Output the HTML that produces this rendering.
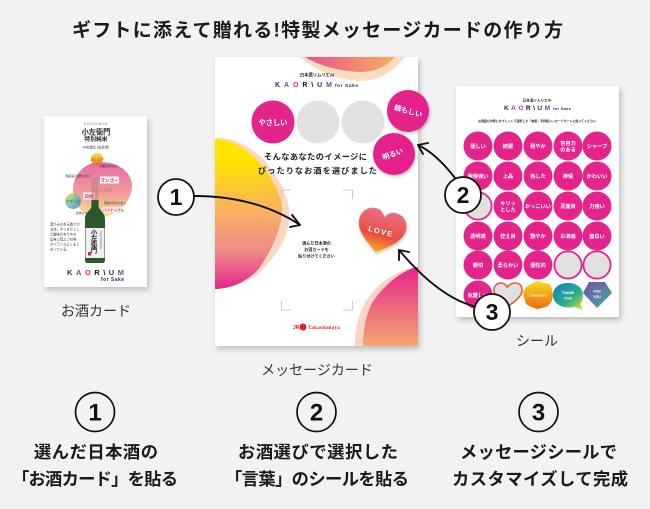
<!DOCTYPE html>
<html lang="ja"><head><meta charset="utf-8"><title>特製メッセージカードの作り方</title>
<style>
html,body{margin:0;padding:0;background:#f2f2f2}
svg{display:block}
text{font-family:"Liberation Sans","Noto Sans CJK JP",sans-serif}
.lb{font-size:14px;fill:#333;text-anchor:middle}
.s{font-size:5.2px;font-weight:700;fill:#fff;text-anchor:middle}
.m{font-size:7.2px;font-weight:700;fill:#fff;text-anchor:middle}
.k{font-weight:700;fill:#2b2b5a}
.n{font-weight:700;fill:#111;text-anchor:middle;font-family:"Liberation Sans",sans-serif}
</style></head><body>
<svg width="650" height="509" viewBox="0 0 650 509" xmlns="http://www.w3.org/2000/svg">
<defs>
<filter id="sh" x="-10%" y="-10%" width="125%" height="125%"><feDropShadow dx="2" dy="3" stdDeviation="3" flood-color="#000" flood-opacity=".22"/></filter>
<filter id="sh2" x="-20%" y="-20%" width="140%" height="140%"><feDropShadow dx="1" dy="1.5" stdDeviation="1.5" flood-color="#000" flood-opacity=".25"/></filter>
<linearGradient id="gl" x1="0" y1="0" x2="0" y2="1"><stop offset="0" stop-color="#ffe600"/><stop offset=".15" stop-color="#ffe300"/><stop offset=".48" stop-color="#f9b060"/><stop offset=".75" stop-color="#ef8a8a"/><stop offset="1" stop-color="#e5248b"/></linearGradient>
<linearGradient id="gt" x1="0" y1="0" x2="1" y2="0"><stop offset="0" stop-color="#e9508f"/><stop offset="1" stop-color="#f8b060"/></linearGradient>
<linearGradient id="gb" x1="0" y1="0" x2="0" y2="1"><stop offset="0" stop-color="#e5248b"/><stop offset="1" stop-color="#f5a870"/></linearGradient>
<linearGradient id="gh2" x1="0" y1="0" x2="0" y2="1"><stop offset="0" stop-color="#e96f85"/><stop offset=".6" stop-color="#ea4d3f"/><stop offset="1" stop-color="#f7b020"/></linearGradient>
<linearGradient id="gs" x1="0" y1="0" x2="0" y2="1"><stop offset="0" stop-color="#e56aa8"/><stop offset=".55" stop-color="#f09a9a"/><stop offset="1" stop-color="#fde28a"/></linearGradient>
<linearGradient id="g1" x1="0" y1="0" x2="0" y2="1"><stop offset="0" stop-color="#f5dc20"/><stop offset="1" stop-color="#ee6a10"/></linearGradient>
<linearGradient id="g2" x1="0" y1="0" x2="1" y2="1"><stop offset="0" stop-color="#0a7fc4"/><stop offset=".6" stop-color="#2db08a"/><stop offset="1" stop-color="#e8e020"/></linearGradient>
<linearGradient id="g3" x1="0" y1="0" x2="1" y2="1"><stop offset="0" stop-color="#7a4fa0"/><stop offset="1" stop-color="#3fb0a8"/></linearGradient>
<linearGradient id="g4" x1="0" y1="0" x2="1" y2="1"><stop offset="0" stop-color="#f2e030"/><stop offset=".5" stop-color="#6cc0a0"/><stop offset="1" stop-color="#4a78d0"/></linearGradient>
<clipPath id="cm"><rect x="215" y="57" width="203" height="289"/></clipPath>
</defs>
<rect width="650" height="509" fill="#f2f2f2"/>

<text x="72" y="36.5" font-size="19" font-weight="700" fill="#1a1a1a" textLength="491" lengthAdjust="spacing">ギフトに添えて贈れる!特製メッセージカードの作り方</text>

<!-- left card -->
<rect x="44" y="116" width="103" height="171" fill="#fff" filter="url(#sh)"/>
<text x="96" y="125" font-size="3.400" fill="#777" text-anchor="middle" letter-spacing=".6">KOZAEMON</text>
<text x="96" y="134.500" font-size="7.200" font-weight="700" fill="#222" text-anchor="middle">小左衛門</text>
<text x="96" y="141.200" font-size="5.800" font-weight="700" fill="#222" text-anchor="middle">特別純米</text>
<text x="96" y="148.500" font-size="3.400" fill="#444" text-anchor="middle">中央懐北 (岐阜県)</text>
<path d="M100 162C118 162 132 172 132 186 132 200 118 217 100 217 84 217 73 205 73 190 73 175 85 162 100 162Z" fill="url(#gs)"/>
<circle cx="97" cy="159" r="6" fill="url(#g1)" opacity=".85"/>
<circle cx="73" cy="201" r="8" fill="url(#g4)" opacity=".85"/>
<text x="97" y="160.500" font-size="3.400" fill="#8a4a00" text-anchor="middle">ふくよか</text>
<text x="73" y="202.500" font-size="3.400" fill="#225588" text-anchor="middle">すずしげ</text>
<text x="109" y="167" font-size="2.800" fill="#333" text-anchor="middle">甘味のある香り</text>
<text x="78" y="177" font-size="2.800" fill="#333" text-anchor="middle">麹由来の濃厚な甘い</text>
<text x="102" y="191.500" font-size="4.400" fill="#c0607a" text-anchor="middle">あたたかみ</text>
<rect x="100" y="176.500" width="19" height="7" fill="#fff" opacity=".95"/>
<text x="109.500" y="182" font-size="4.500" font-weight="700" fill="#e02050" text-anchor="middle">マンゴー</text>
<rect x="83.500" y="192.500" width="11" height="7" fill="#fff" opacity=".95"/>
<text x="89" y="198" font-size="4.500" font-weight="700" fill="#e02050" text-anchor="middle">白桃</text>
<text x="115" y="204" font-size="2.800" fill="#333" text-anchor="middle">南国の果実の甘さ</text>
<rect x="102" y="207" width="23" height="6" fill="#fff" opacity=".75"/>
<text x="113.500" y="211.500" font-size="3.600" font-weight="700" fill="#e02050" text-anchor="middle">パイナップル</text>
<text x="87" y="214" font-size="2.800" fill="#333" text-anchor="middle">爽快なカカオーツ</text>
<!-- bottle -->
<rect x="91.500" y="177" width="7" height="24" fill="#b98a80" opacity=".55"/>
<path d="M91.500 200h7v6c0 4 6.500 6 6.500 13v41c0 2-1 3-3 3H88c-2 0-3-1-3-3v-41c0-7 6.500-9 6.500-13z" fill="#2a5a2c"/>
<rect x="85.500" y="228" width="19" height="30" fill="#efefef"/>
<g font-size="6.300" font-weight="700" fill="#222" text-anchor="middle">
<text x="94" y="234.500">小</text><text x="94" y="240.500">左</text><text x="94" y="246.500">衛</text><text x="94" y="252.500">門</text>
</g>
<rect x="88" y="252" width="3" height="3.500" fill="#c0304a"/>
<rect x="100.500" y="231" width="1" height="18" fill="#999"/>
<g font-size="3.300" fill="#333">
<text x="50" y="225.500">温かみのある香りが</text>
<text x="50" y="230.500">主体。すっきりとし</text>
<text x="50" y="235.500">た酸味があり中の</text>
<text x="50" y="240.500">旨味と程よい甘味</text>
<text x="50" y="245.500">がバランスよくまと</text>
<text x="50" y="250.500">まっている。</text>
</g>
<text class="k" x="67" y="275" font-size="7.500" textLength="57" lengthAdjust="spacing">K<tspan fill="#6a4aa0">A</tspan><tspan fill="#e5248b">O</tspan><tspan fill="#111">R</tspan><tspan fill="#111">\</tspan>U<tspan fill="#6a4aa0">M</tspan></text>
<text x="101" y="281" font-size="5" font-weight="700" fill="#2b2b5a" textLength="23" lengthAdjust="spacing">for Sake</text>

<!-- middle card -->
<rect x="215" y="57" width="203" height="289" fill="#fff" filter="url(#sh)"/>
<g clip-path="url(#cm)">
<path d="M300 57C315 70 335 80 360 81 380 81 395 70 405 57Z" fill="#fbdcc0"/>
<path d="M305 57C318 65 338 71 360 72 375 72 387 66 395 57Z" fill="url(#gt)"/>
<path d="M215 138C245 136 278 165 288 203 293 225 285 245 265 267 255 280 235 288 215 289Z" fill="#fbd8c0"/>
<path d="M215 139C240 139 270 165 281 200 285 220 275 245 260 267 250 280 232 289 215 289Z" fill="url(#gl)"/>
<path d="M418 267C395 270 375 285 365 303 358 315 355 330 355 346H418Z" fill="#fbd4c4"/>
<path d="M418 267C405 269 385 283 372 303 366 315 363 330 363 346H418Z" fill="url(#gb)"/>
</g>
<text x="317" y="76.500" font-size="4.300" font-weight="700" fill="#222" text-anchor="middle">日本酒ソムリエAI</text>
<text class="k" x="275" y="87" font-size="7" textLength="57" lengthAdjust="spacing">K<tspan fill="#6a4aa0">A</tspan><tspan fill="#e5248b">O</tspan><tspan fill="#111">R</tspan><tspan fill="#111">\</tspan>U<tspan fill="#6a4aa0">M</tspan></text>
<text x="335" y="87" font-size="4.800" font-weight="700" fill="#2b2b5a" textLength="23" lengthAdjust="spacing">for Sake</text>
<circle cx="273" cy="122" r="21.500" fill="#e5248b"/>
<circle cx="318" cy="122" r="21.500" fill="#e2e2e2"/>
<circle cx="363" cy="122" r="21.500" fill="#e2e2e2"/>
<text class="m" x="273" y="124.800">やさしい</text>
<circle cx="408" cy="111" r="21" fill="#e5248b" filter="url(#sh2)"/>
<circle cx="394" cy="154" r="21" fill="#e5248b" filter="url(#sh2)"/>
<text class="m" transform="translate(407.500 113.500) rotate(15)" x="0" y="0">頼もしい</text>
<text class="m" transform="translate(393.500 156.500) rotate(-20)" x="0" y="0">明るい</text>
<text x="264" y="159.500" font-size="8.200" font-weight="700" fill="#222" textLength="103" lengthAdjust="spacing">そんなあなたのイメージに</text>
<text x="258" y="173.500" font-size="8.200" font-weight="700" fill="#222" textLength="119" lengthAdjust="spacing">ぴったりなお酒を選びました</text>
<path d="M281.500 199v-9h9M343 190h9.500v9M281.500 301v9h9M343 310h9.500v-9" fill="none" stroke="#ccc" stroke-width="1.100"/>
<g font-size="4.100" font-weight="700" fill="#222" text-anchor="middle">
<text x="316.500" y="244.500">選んだ日本酒の</text>
<text x="316.500" y="251">お酒カードを</text>
<text x="316.500" y="257.500">貼り付けてください</text>
</g>
<text x="293" y="329" font-size="5" font-weight="700" fill="#e0202a">JR</text>
<circle cx="303" cy="327" r="3.500" fill="#e0202a"/>
<text x="308" y="329" font-size="5.200" font-weight="700" fill="#e0202a" style="font-family:'Liberation Serif',serif" textLength="32" lengthAdjust="spacing">Takashimaya</text>
<g transform="translate(381 231) rotate(14)">
<path d="M0 22C-10 14-24 6-24-7-24-16-17-21-10-21-5-21-2-18 0-14 2-18 5-21 10-21 17-21 24-16 24-7 24 6 10 14 0 22Z" fill="url(#gh2)" filter="url(#sh2)"/>
<text x="0" y="3" font-size="7.500" font-weight="700" fill="#fff" text-anchor="middle" letter-spacing="1.300">LOVE</text>
</g>

<!-- right card -->
<rect x="456" y="86" width="163" height="231" fill="#fff" filter="url(#sh)"/>
<text x="537" y="101.500" font-size="3.600" font-weight="700" fill="#222" text-anchor="middle">日本酒ソムリエAI</text>
<text class="k" x="504" y="110" font-size="6.500" textLength="46" lengthAdjust="spacing">K<tspan fill="#6a4aa0">A</tspan><tspan fill="#e5248b">O</tspan><tspan fill="#111">R</tspan><tspan fill="#111">\</tspan>U<tspan fill="#6a4aa0">M</tspan></text>
<text x="553" y="110" font-size="4" font-weight="700" fill="#2b2b5a" textLength="18" lengthAdjust="spacing">for Sake</text>
<text x="478" y="122" font-size="2.900" font-weight="700" fill="#222" textLength="118" lengthAdjust="spacingAndGlyphs">お酒選びの際にタブレットで選択した「言葉」を特製メッセージカードに貼ってください</text>
<g fill="#e5248b">
<circle cx="478" cy="146" r="14.500"/><circle cx="508" cy="146" r="14.500"/><circle cx="538" cy="146" r="14.500"/><circle cx="568" cy="146" r="14.500"/><circle cx="597" cy="146" r="14.500"/>
<circle cx="478" cy="176" r="14.500"/><circle cx="508" cy="176" r="14.500"/><circle cx="538" cy="176" r="14.500"/><circle cx="568" cy="176" r="14.500"/><circle cx="597" cy="176" r="14.500"/>
<circle cx="508" cy="206" r="14.500"/><circle cx="538" cy="206" r="14.500"/><circle cx="568" cy="206" r="14.500"/><circle cx="597" cy="206" r="14.500"/>
<circle cx="478" cy="236" r="14.500"/><circle cx="508" cy="236" r="14.500"/><circle cx="538" cy="236" r="14.500"/><circle cx="568" cy="236" r="14.500"/><circle cx="597" cy="236" r="14.500"/>
<circle cx="478" cy="265" r="14.500"/><circle cx="508" cy="265" r="14.500"/><circle cx="538" cy="265" r="14.500"/>
<circle cx="478" cy="295" r="14.500"/>
</g>
<g fill="#e0e0e0" stroke="#e5248b" stroke-width="1.800">
<circle cx="478" cy="206" r="13.600"/><circle cx="568" cy="265" r="13.600"/><circle cx="597" cy="265" r="13.600"/>
</g>
<text class="s" x="478" y="148">優しい</text><text class="s" x="508" y="148">綺麗</text><text class="s" x="538" y="148">穏やか</text><text class="s" x="568" y="145">包容力</text><text class="s" x="568" y="151.500">のある</text><text class="s" x="597" y="148">シャープ</text>
<text class="s" x="478" y="178">我慢強い</text><text class="s" x="508" y="178">上品</text><text class="s" x="538" y="178">熟した</text><text class="s" x="568" y="178">律儀</text><text class="s" x="597" y="178">かわいい</text>
<text class="s" x="508" y="205">キリッ</text><text class="s" x="508" y="211.500">とした</text><text class="s" x="538" y="208">かっこいい</text><text class="s" x="568" y="208">真面目</text><text class="s" x="597" y="208">力強い</text>
<text class="s" x="478" y="238">透明感</text><text class="s" x="508" y="238">控え目</text><text class="s" x="538" y="238">艶やか</text><text class="s" x="568" y="238">お洒落</text><text class="s" x="597" y="238">面白い</text>
<text class="s" x="478" y="267">親切</text><text class="s" x="508" y="267">柔らかい</text><text class="s" x="538" y="267">個性的</text>
<text class="s" x="478" y="297">気難しい</text>
<path d="M507 307C500 302 494 297 494 290 494 285 498 283 501 283 504 283 506 285 507 287 509 285 511 283 515 283 519 283 522 285 522 290 522 297 514 302 507 307Z" fill="#e0e0e0" stroke="#ee5a30" stroke-width="1.600"/>
<polygon points="538,281 544,283 550,284 552,289 553,295 552,301 548,306 542,308 537,309 531,307 526,304 524,298 523,292 526,287 531,284" fill="url(#g1)"/>
<text x="538" y="296.500" font-size="3" font-weight="700" fill="#fff" text-anchor="middle">CONGRATS</text>
<path d="M568 283c9 0 15 5 15 12 0 4-1 7-3 9l3 6-8-3c-9 2-22-1-22-12 0-7 6-12 15-12z" fill="url(#g2)"/>
<text x="568" y="294" font-size="3.600" font-weight="700" fill="#fff" text-anchor="middle">THANK</text>
<text x="568" y="299.500" font-size="3.600" font-weight="700" fill="#fff" text-anchor="middle">YOU!</text>
<polygon points="589,282 605,282 612,293 597,308 583,293" fill="url(#g3)"/>
<text x="597" y="292.500" font-size="3.600" font-weight="700" fill="#fff" text-anchor="middle">FOR</text>
<text x="597" y="298" font-size="3.600" font-weight="700" fill="#fff" text-anchor="middle">YOU</text>

<!-- labels -->
<text class="lb" x="96" y="316">お酒カード</text>
<text class="lb" x="317" y="375">メッセージカード</text>
<text class="lb" x="537" y="346">シール</text>

<!-- arrows -->
<g fill="none" stroke="#111" stroke-width="1.900" stroke-linecap="round" stroke-linejoin="round">
<path d="M194 196C235 196 270 205 300 225"/>
<path d="M292 215L300 225 290 227"/>
<path d="M455 178C445 165 433 152 418 145"/>
<path d="M428 143L418 145 423 154"/>
<path d="M473 306C445 298 420 275 399 250"/>
<path d="M409 252L399 250 399 260"/>
</g>

<!-- numbered circles -->
<g fill="#fff" stroke="#111" stroke-width="1.800">
<circle cx="176" cy="197" r="18"/><circle cx="463" cy="195" r="18"/><circle cx="492" cy="312" r="18"/>
</g>
<text class="n" x="176" y="205" font-size="23">1</text>
<text class="n" x="463" y="203" font-size="23">2</text>
<text class="n" x="492" y="320" font-size="23">3</text>

<g fill="none" stroke="#111" stroke-width="1.700">
<circle cx="95" cy="412" r="19.500"/><circle cx="316.500" cy="412" r="19.500"/><circle cx="538.500" cy="412" r="19.500"/>
</g>
<text class="n" x="95" y="420.500" font-size="24">1</text>
<text class="n" x="316.500" y="420.500" font-size="24">2</text>
<text class="n" x="538.500" y="420.500" font-size="24">3</text>

<g font-size="17.300" font-weight="700" fill="#1a1a1a">
<text x="34" y="458" textLength="124" lengthAdjust="spacing">選んだ日本酒の</text>
<text x="12" y="485" textLength="166" lengthAdjust="spacing">「お酒カード」を貼る</text>
<text x="238" y="458" textLength="160" lengthAdjust="spacing">お酒選びで選択した</text>
<text x="225" y="485" textLength="184" lengthAdjust="spacing">「言葉」のシールを貼る</text>
<text x="460" y="458" textLength="157" lengthAdjust="spacing">メッセージシールで</text>
<text x="452" y="485" textLength="176" lengthAdjust="spacing">カスタマイズして完成</text>
</g>
</svg>
</body></html>
